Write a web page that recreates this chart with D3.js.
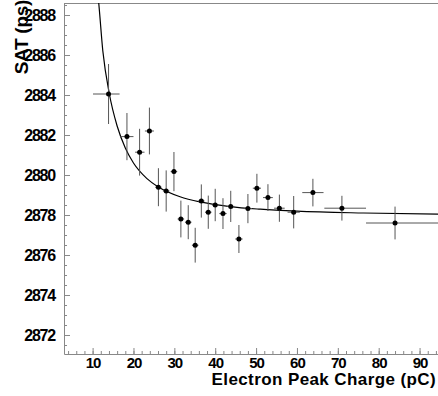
<!DOCTYPE html>
<html>
<head>
<meta charset="utf-8">
<script src="https://cdn.jsdelivr.net/npm/d3@7"></script>
<style>
  html, body { margin: 0; padding: 0; background: #fff; }
  svg text { font-family: "Liberation Sans", Arial, sans-serif; font-weight: bold; fill: #000; }
</style>
</head>
<body>
<div id="chart"></div>
<script>
// measured points (electron peak charge vs SAT)
const charge = [13.9, 18.4, 21.5, 23.9, 26.1, 28.0, 29.9, 31.6, 33.4, 35.1, 36.6, 38.3,
                40.0, 41.9, 43.8, 45.8, 48.0, 50.2, 52.9, 55.7, 59.2, 63.9, 71.0, 84.0];
const sat = [2884.05, 2881.92, 2881.14, 2882.2, 2879.39, 2879.2, 2880.17, 2877.8, 2877.64, 2876.49, 2878.7, 2878.14,
             2878.5, 2878.07, 2878.43, 2876.8, 2878.32, 2879.34, 2878.87, 2878.34, 2878.14, 2879.12, 2878.34, 2877.6];
const satErr = [1.5, 1.18, 1.17, 1.17, 0.95, 1.03, 0.98, 0.92, 0.85, 0.87, 0.83, 0.83,
                0.81, 0.77, 0.78, 0.7, 0.73, 0.72, 0.67, 0.68, 0.81, 0.69, 0.62, 0.82];
const chargeErrLo = [3.8, 1.6, 1.1, 1.1, 0.8, 0.8, 0.8, 0.8, 0.8, 0.8, 0.8, 0.8,
                     0.8, 0.9, 0.9, 0.9, 1.0, 1.0, 1.2, 1.3, 1.5, 2.6, 4.3, 7.1];
const chargeErrHi = [2.7, 1.6, 1.2, 1.1, 0.8, 0.8, 0.8, 0.8, 0.8, 0.8, 0.8, 0.8,
                     0.8, 0.9, 0.9, 0.9, 1.0, 1.0, 1.2, 1.3, 1.5, 2.6, 5.9, 11];

// fit curve
const fitX = [11.0, 11.4, 12.5, 14.1, 16.0, 18.0, 20.0, 23.3, 26.1, 31.4, 36.6, 43.6, 51.0, 60.0, 76.3, 95];
const fitY = [2889.5, 2888.8, 2886.2, 2884.05, 2882.45, 2881.35, 2880.6, 2879.82, 2879.4, 2878.91, 2878.64,
              2878.42, 2878.29, 2878.19, 2878.1, 2878.04];

const xTicks = [10, 20, 30, 40, 50, 60, 70, 80, 90];
const yTicks = [2872, 2874, 2876, 2878, 2880, 2882, 2884, 2886, 2888];

const width = 438, height = 396;
const plotL = 64, plotR = 440, plotT = 3, plotB = 354;

const svg = d3.select("#chart").append("svg")
  .attr("width", width)
  .attr("height", height);

const x = d3.scaleLinear().domain([3, 95]).range([plotL, plotR]);
const y = d3.scaleLinear().domain([2871.05, 2888.6]).range([plotB, plotT]);

svg.append("clipPath").attr("id", "clip")
  .append("rect").attr("x", plotL).attr("y", plotT).attr("width", plotR - plotL).attr("height", plotB - plotT);

const axisColor = "#888";

// top frame
svg.append("line")
  .attr("x1", plotL).attr("x2", plotR).attr("y1", plotT + 0.5).attr("y2", plotT + 0.5)
  .attr("stroke", axisColor);

// minor ticks
svg.append("g")
  .attr("transform", `translate(${plotL},0)`)
  .call(d3.axisLeft(y).tickValues(d3.range(2871.5, 2888.6, 0.5)).tickSize(-3).tickFormat(""))
  .call(g => g.select(".domain").remove())
  .call(g => g.selectAll("line").attr("stroke", axisColor));
svg.append("g")
  .attr("transform", `translate(0,${plotB})`)
  .call(d3.axisBottom(x).tickValues(d3.range(4, 95, 2)).tickSize(-3).tickFormat(""))
  .call(g => g.select(".domain").remove())
  .call(g => g.selectAll("line").attr("stroke", axisColor));

// y axis
svg.append("g")
  .attr("transform", `translate(${plotL},0)`)
  .call(d3.axisLeft(y).tickValues(yTicks).tickFormat(d3.format("d"))
    .tickSize(-6).tickPadding(9).tickSizeOuter(0))
  .call(g => g.select(".domain").attr("stroke", axisColor))
  .call(g => g.selectAll("line").attr("stroke", axisColor))
  .call(g => g.selectAll("text")
    .style("font-size", "16px").style("letter-spacing", "-1.2px"));

// x axis
svg.append("g")
  .attr("transform", `translate(0,${plotB})`)
  .call(d3.axisBottom(x).tickValues(xTicks).tickFormat(d3.format("d"))
    .tickSize(-6).tickPadding(3).tickSizeOuter(0))
  .call(g => g.select(".domain").attr("stroke", axisColor))
  .call(g => g.selectAll("line").attr("stroke", axisColor))
  .call(g => g.selectAll("text")
    .style("font-size", "15px").style("letter-spacing", "-1px"));

// axis titles
svg.append("text")
  .attr("x", 436).attr("y", 385)
  .attr("text-anchor", "end")
  .style("font-size", "17px")
  .style("letter-spacing", "0.4px")
  .text("Electron Peak Charge (pC)");

svg.append("text")
  .attr("transform", "translate(28,0) rotate(-90)")
  .attr("text-anchor", "end")
  .style("font-size", "19px")
  .style("letter-spacing", "-0.3px")
  .text("SAT (ps)");

const plot = svg.append("g").attr("clip-path", "url(#clip)");

// fit curve
const line = d3.line()
  .x((d, i) => x(fitX[i]))
  .y(d => y(d))
  .curve(d3.curveMonotoneX);
plot.append("path")
  .datum(fitY)
  .attr("d", line)
  .attr("fill", "none")
  .attr("stroke", "#000")
  .attr("stroke-width", 1.2);

// error bars
const idx = d3.range(charge.length);
plot.selectAll(".ey").data(idx).enter().append("line")
  .attr("x1", i => x(charge[i])).attr("x2", i => x(charge[i]))
  .attr("y1", i => y(sat[i] - satErr[i])).attr("y2", i => y(sat[i] + satErr[i]))
  .attr("stroke", "#555").attr("stroke-width", 1);
plot.selectAll(".ex").data(idx).enter().append("line")
  .attr("x1", i => x(charge[i] - chargeErrLo[i])).attr("x2", i => x(charge[i] + chargeErrHi[i]))
  .attr("y1", i => y(sat[i])).attr("y2", i => y(sat[i]))
  .attr("stroke", "#555").attr("stroke-width", 1);

// markers
plot.selectAll("circle").data(idx).enter().append("circle")
  .attr("cx", i => x(charge[i]))
  .attr("cy", i => y(sat[i]))
  .attr("r", 2.5)
  .attr("fill", "#000");
</script>
</body>
</html>
